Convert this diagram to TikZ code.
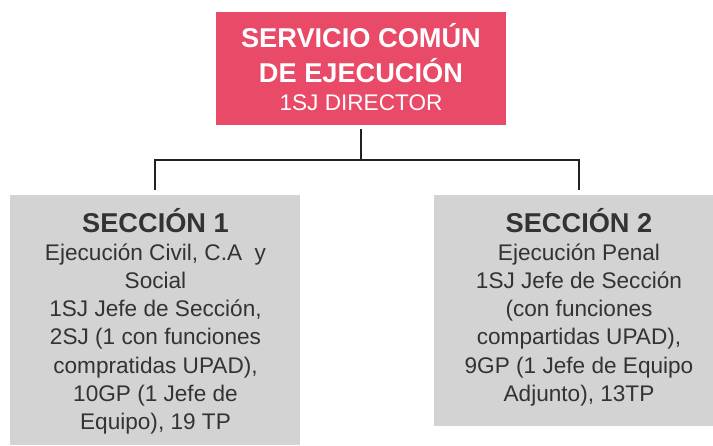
\documentclass[tikz,border=0pt]{standalone}
\usepackage{fontspec}
\setmainfont{Liberation Sans}
\definecolor{toppink}{HTML}{E84A68}
\definecolor{boxgray}{HTML}{D3D3D3}
\definecolor{txtgray}{HTML}{333333}
\definecolor{linecol}{HTML}{222222}
\begin{document}
\begin{tikzpicture}[x=1pt,y=-1pt,
  boxnode/.style={draw=none,inner sep=0pt,outer sep=0pt},
  bigtxt/.style={anchor=base,inner sep=0pt,align=center,font=\bfseries\fontsize{27.2}{35}\selectfont},
  bodytxt/.style={anchor=base,inner sep=0pt,align=center,font=\fontsize{22.6}{28.3}\selectfont},
  conn/.style={draw=linecol,line width=1.8pt}]
\useasboundingbox (0,0) rectangle (713,445);
\fill[white] (0,0) rectangle (713,445);
% boxes
\node[boxnode,fill=toppink,minimum width=290pt,minimum height=113pt] (top) at (361,68.5) {};
\node[boxnode,fill=boxgray,minimum width=290pt,minimum height=250pt] (s1) at (155,320) {};
\node[boxnode,fill=boxgray,minimum width=279pt,minimum height=231pt] (s2) at (573.5,310.5) {};
% texts (base anchor = baseline of last line)
\node[bigtxt,text=white] (toptitle) at (361,82) {SERVICIO COMÚN\\DE EJECUCIÓN};
\node[bodytxt,text=white] (topsub) at (361,110) {1SJ DIRECTOR};
\node[bigtxt,text=txtgray] (s1title) at (155.5,232) {SECCIÓN 1};
\node[bodytxt,text=txtgray] (s1body) at (155.5,429.8) {Ejecución Civil, C.A\ \ y\\Social\\1SJ Jefe de Sección,\\2SJ (1 con funciones\\compratidas UPAD),\\10GP (1 Jefe de\\Equipo), 19 TP};
\node[bigtxt,text=txtgray] (s2title) at (579,232) {SECCIÓN 2};
\node[bodytxt,text=txtgray] (s2body) at (579,401.5) {Ejecución Penal\\1SJ Jefe de Sección\\(con funciones\\compartidas UPAD),\\9GP (1 Jefe de Equipo\\Adjunto), 13TP};
% connectors
\coordinate (j) at (361,160);
\draw[conn,shorten <=4pt] (top.south) -- (j);
\draw[conn,shorten <=5pt,shorten >=5pt] (s1.north) -- (s1.north |- j) -- (579,160) -- (579,195);
\end{tikzpicture}
\end{document}
